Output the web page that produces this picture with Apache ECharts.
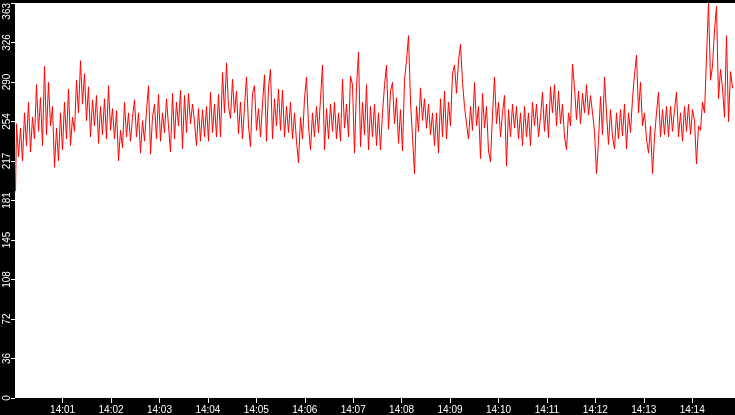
<!DOCTYPE html>
<html>
<head>
    <meta charset="utf-8">
    <title>value trace</title>
    <script src="https://cdn.jsdelivr.net/npm/echarts@6.0.0/dist/echarts.min.js"></script>
    <style>
        html, body { margin: 0; padding: 0; background: #000; }
    </style>
</head>
<body>
<div id="main" style="width: 735px;height:415px;"></div>
<script type="text/javascript">
    var values = [
        190, 252, 222, 248, 218, 262, 232, 272, 226, 258,
        238, 288, 245, 276, 232, 305, 242, 290, 250, 268,
        212, 248, 218, 262, 228, 272, 238, 284, 232, 258,
        245, 292, 262, 310, 270, 298, 255, 286, 240, 274,
        250, 278, 234, 268, 242, 275, 238, 287, 246, 266,
        238, 264, 218, 246, 230, 272, 240, 262, 236, 258,
        274, 240, 262, 225, 255, 236, 264, 287, 224, 258,
        270, 238, 279, 236, 262, 244, 275, 250, 226, 280,
        238, 272, 250, 283, 229, 278, 244, 280, 252, 270,
        254, 232, 266, 236, 265, 240, 268, 236, 281, 244,
        270, 240, 279, 240, 299, 262, 308, 268, 257, 293,
        262, 282, 243, 272, 238, 268, 295, 250, 231, 280,
        287, 246, 266, 240, 270, 297, 236, 285, 302, 238,
        275, 250, 284, 246, 283, 240, 268, 244, 272, 238,
        262, 236, 216, 258, 238, 275, 295, 250, 228, 262,
        240, 268, 244, 275, 306, 228, 266, 238, 270, 245,
        272, 238, 262, 236, 293, 248, 270, 240, 296, 288,
        225, 286, 318, 231, 272, 242, 288, 228, 268, 240,
        270, 232, 262, 228, 262, 287, 306, 247, 282, 290,
        252, 276, 234, 265, 227, 292, 310, 333, 272, 240,
        206, 268, 245, 285, 255, 275, 248, 270, 242, 262,
        232, 262, 225, 275, 240, 282, 238, 272, 250, 298,
        306, 280, 310, 325, 290, 268, 252, 238, 268, 246,
        290, 250, 268, 220, 280, 248, 268, 227, 217, 260,
        295, 252, 272, 240, 262, 278, 213, 265, 240, 270,
        248, 268, 238, 262, 232, 268, 240, 262, 232, 272,
        250, 270, 240, 258, 281, 245, 270, 239, 286, 262,
        288, 250, 282, 252, 270, 240, 228, 262, 250, 307,
        285, 256, 282, 252, 280, 262, 288, 260, 278, 262,
        245, 206, 236, 277, 242, 295, 262, 233, 265, 240,
        229, 262, 238, 265, 241, 270, 229, 262, 244, 275,
        297, 315, 262, 290, 250, 262, 238, 225, 250, 206,
        240, 262, 281, 240, 265, 242, 268, 240, 268, 245,
        265, 281, 240, 262, 236, 268, 245, 270, 242, 265,
        255, 215, 250, 246, 272, 262, 313, 363, 292, 305,
        338, 360, 275, 302, 285, 258, 333, 254, 300, 285
    ];
    var yTickLabels = ['0', '36', '72', '108', '145', '181', '217', '254', '290', '326', '363'];
    var yMax = 363;

    // window shown: 14:00:01 .. 14:14:53, 720 px wide
    var tStart = new Date(2024, 0, 1, 14, 0, 1).getTime();
    var tEnd = new Date(2024, 0, 1, 14, 14, 53).getTime();
    var msPerPx = (tEnd - tStart) / 720;

    // one sample every 2 px; step risers land on pixel centres so they stay sharp
    var points = [];
    for (var i = 0; i < values.length; i++) {
        points.push([tStart + (0.5 + 2 * i) * msPerPx, values[i]]);
    }

    var myChart = echarts.init(document.getElementById('main'));
    var labelFont = {color: '#fff', fontFamily: 'Liberation Sans, Arial, sans-serif', fontSize: 10};

    var option = {
        backgroundColor: '#000',
        animation: false,
        grid: {
            left: 15, right: 0, top: 0, bottom: 16,
            show: true, backgroundColor: '#fff', borderWidth: 0
        },
        xAxis: {
            type: 'time',
            min: tStart,
            max: tEnd,
            splitNumber: 15,
            minInterval: 60000,
            maxInterval: 60000,
            axisLine: {show: false},
            axisTick: {show: true, length: 5, lineStyle: {color: '#fff'}},
            splitLine: {show: false},
            axisLabel: Object.assign({margin: 7, formatter: '{HH}:{mm}', showMinLabel: false}, labelFont)
        },
        yAxis: {
            type: 'value',
            min: 0,
            max: yMax,
            interval: yMax / 10,
            axisLine: {show: false},
            axisTick: {show: true, length: 4, lineStyle: {color: '#fff'}},
            splitLine: {show: false},
            axisLabel: Object.assign({
                rotate: 90,
                margin: 3,
                alignMaxLabel: 'right',
                formatter: function (v) {
                    return yTickLabels[Math.round(v / (yMax / 10))];
                }
            }, labelFont)
        },
        series: [{
            type: 'line',
            step: 'middle',
            data: points,
            showSymbol: false,
            sampling: null,
            lineStyle: {color: '#ff0000', width: 1},
            itemStyle: {color: '#ff0000'}
        }]
    };

    myChart.setOption(option);
</script>
</body>
</html>
